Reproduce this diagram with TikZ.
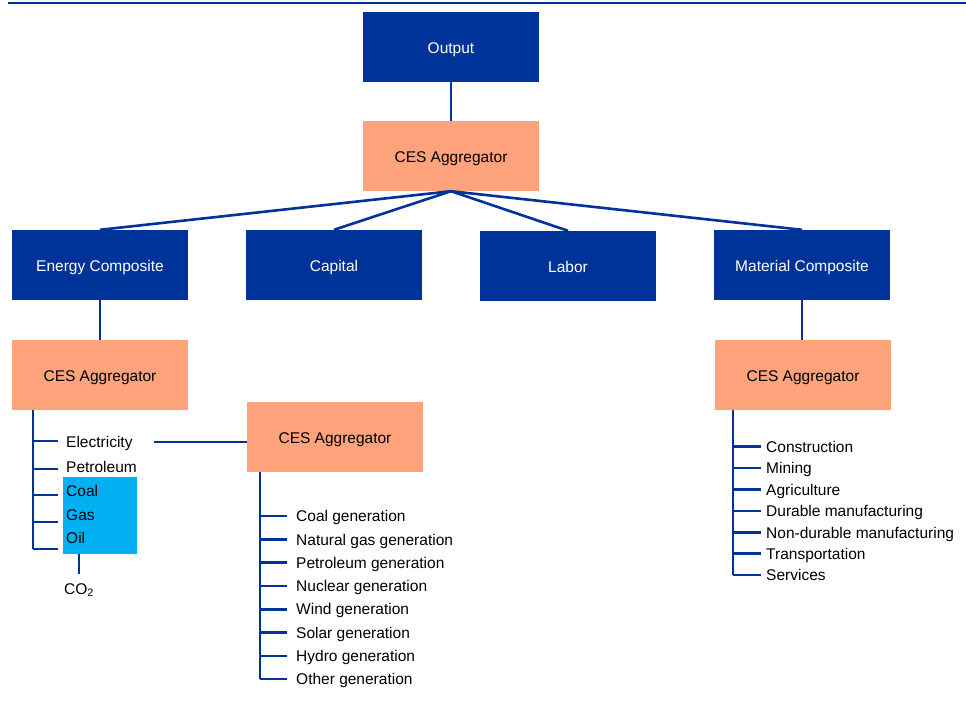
\documentclass[tikz,border=0pt]{standalone}
\usepackage{fontspec}
\setmainfont{Liberation Sans}
\definecolor{navy}{RGB}{0,51,153}
\definecolor{salmon}{RGB}{255,163,124}
\definecolor{fossilcyan}{RGB}{0,176,240}
\begin{document}
\begin{tikzpicture}[x=1pt,y=-1pt,
  font=\fontsize{15.5}{18}\selectfont,
  blk/.style={fill=navy, text=white, minimum width=176pt, minimum height=70pt, inner sep=0pt,
              text height=13pt, text depth=0pt},
  agg/.style={blk, fill=salmon, text=black},
  leaf/.style={anchor=west, inner sep=0pt, text height=11.4pt, text depth=0pt},
  link/.style={draw=navy, line width=2.6pt},
  ]
  \useasboundingbox (0,0) rectangle (966,708);
  \draw[navy, line width=2.4pt] (8,3) -- (966,3);
  % ---- top level -----------------------------------------------------------
  \node[blk] (out) at (451,47)  {Output};
  \node[agg] (top) at (451,156) {CES Aggregator};
  \draw[link] (out) -- (top);
  % ---- inputs --------------------------------------------------------------
  \node[blk] (energy)   at (100,265) {Energy Composite};
  \node[blk] (capital)  at (334,265) {Capital};
  \node[blk] (labor)    at (568,266) {Labor};
  \node[blk] (material) at (802,265) {Material Composite};
  \foreach \n in {energy,capital,labor,material} { \draw[link] (top.south) -- (\n.north); }
  % ---- second level aggregators -------------------------------------------
  \node[agg] (aggE) at (100,375) {CES Aggregator};
  \node[agg] (aggM) at (335,437) {CES Aggregator};
  \node[agg] (aggR) at (803,375) {CES Aggregator};
  \draw[link] (energy) -- (aggE);
  \draw[link] (material.south) -- (material.south |- aggR.north);
  % ---- energy inputs -------------------------------------------------------
  \node[fill=fossilcyan, minimum width=74pt, minimum height=77pt, inner sep=0pt] (fossil) at (100,515.5) {};
  \coordinate (eTrunk) at (33,410);
  \foreach \t/\ty/\y [count=\i] in {Electricity/441/442, Petroleum/469/467, Coal/495/491, Gas/522/515, Oil/549/538} {
    \node[leaf] (e\i) at (66,\y) {\t};
    \coordinate (et\i) at (58,\ty);
  }
  \draw[link] (eTrunk) -- (eTrunk |- et5);
  \foreach \i in {1,...,5} { \draw[link] (et\i -| eTrunk) -- (et\i); }
  \node[inner sep=0pt] (co2) at (79,590) {CO\textsubscript{2}};
  \draw[link] (fossil.south -| co2) -- ++(0,20);
  \draw[link] ([xshift=21pt]e1.east) -- (e1 -| aggM.west);
  % ---- electricity generation ---------------------------------------------
  \coordinate (gTrunk) at (260,472);
  \foreach \t [count=\i] in {Coal generation, Natural gas generation, Petroleum generation,
      Nuclear generation, Wind generation, Solar generation, Hydro generation, Other generation} {
    \node[leaf] (g\i) at (296,{516+23.3*(\i-1)}) {\t};
    \draw[link] (g\i -| gTrunk) -- ++(27,0);
  }
  \draw[link] (gTrunk) -- (gTrunk |- g8);
  % ---- material inputs -----------------------------------------------------
  \coordinate (mTrunk) at (733,410);
  \foreach \t [count=\i] in {Construction, Mining, Agriculture, Durable manufacturing,
      Non-durable manufacturing, Transportation, Services} {
    \node[leaf] (m\i) at (766,{446.7+21.4*(\i-1)}) {\t};
    \draw[link] (m\i -| mTrunk) -- ++(28,0);
  }
  \draw[link] (mTrunk) -- (mTrunk |- m7);
\end{tikzpicture}
\end{document}
